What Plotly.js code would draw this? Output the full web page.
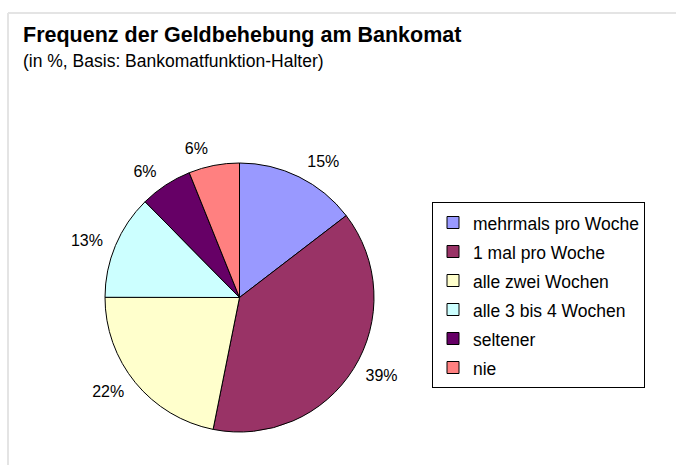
<!DOCTYPE html>
<html>
<head>
<meta charset="utf-8">
<script src="https://cdn.plot.ly/plotly-3.0.1.min.js"></script>
<style>html,body{margin:0;padding:0;background:#fff}#chart{width:676px;height:465px}</style>
</head>
<body>
<div id="chart"></div>
<script>
const categories = ["mehrmals pro Woche", "1 mal pro Woche", "alle zwei Wochen", "alle 3 bis 4 Wochen", "seltener", "nie"];
const shares = [14.6, 38.6, 21.9, 12.6, 6.3, 6.1];
const colors = ["#9999FF", "#993366", "#FFFFCC", "#CCFFFF", "#660066", "#FF8080"];
const titleText = "Frequenz der Geldbehebung am Bankomat";
const subtitleText = "(in %, Basis: Bankomatfunktion-Halter)";

const W = 676, H = 465;
const font = "Liberation Sans, Arial, sans-serif";
const cx = 239.5, cy = 297.5, r = 134.5, labelR = r + 9;

// visible pie (slices + legend)
const pie = {
  type: "pie",
  labels: categories.map(c => '<span style="font-size:17.5px">' + c + '</span>'),
  values: shares,
  sort: false,
  direction: "clockwise",
  rotation: 0,
  marker: {colors: colors, line: {color: "#000000", width: 1}},
  textinfo: "none",
  hoverinfo: "label+percent",
  domain: {x: [(cx - r) / W, (cx + r) / W], y: [1 - (cy + r) / H, 1 - (cy - r) / H]},
  showlegend: true
};

// same data, slightly larger invisible pie that carries the percentage labels a bit further out
const labelsPie = {
  type: "pie",
  labels: categories.map(c => '<span style="font-size:17.5px">' + c + '</span>'),
  values: shares,
  sort: false,
  direction: "clockwise",
  rotation: 0,
  marker: {colors: colors.map(() => "rgba(0,0,0,0)"), line: {width: 0}},
  textinfo: "percent",
  texttemplate: "%{percent:.0%}",
  textposition: "outside",
  outsidetextfont: {family: font, size: 16, color: "#000000"},
  hoverinfo: "skip",
  domain: {x: [(cx - labelR) / W, (cx + labelR) / W], y: [1 - (cy + labelR) / H, 1 - (cy - labelR) / H]},
  showlegend: false
};

const layout = {
  width: W, height: H,
  margin: {l: 0, r: 0, t: 0, b: 0},
  paper_bgcolor: "#ffffff",
  plot_bgcolor: "#ffffff",
  font: {family: font, color: "#000000"},
  title: {text: "<b>" + titleText + "</b>", x: 23 / W, xanchor: "left", xref: "paper",
          y: 1 - 27 / H, yanchor: "top", yref: "container",
          font: {family: font, size: 21.5, color: "#000000"}},
  annotations: [{
    text: subtitleText, xref: "paper", yref: "paper", x: 21 / W, y: 1 - 49 / H,
    xanchor: "left", yanchor: "top", showarrow: false,
    font: {family: font, size: 17.5, color: "#000000"}
  }],
  legend: {
    x: 432 / W, y: 1 - 202 / H, xanchor: "left", yanchor: "top",
    bordercolor: "#000000", borderwidth: 1, bgcolor: "#ffffff",
    font: {family: font, size: 20, color: "#000000"},
    itemclick: false, itemdoubleclick: false
  },
  shapes: [
    {type: "line", xref: "paper", yref: "paper", x0: 8 / W, x1: 1, y0: 1 - 13 / H, y1: 1 - 13 / H,
     line: {color: "#e4e4e4", width: 2}},
    {type: "line", xref: "paper", yref: "paper", x0: 8 / W, x1: 8 / W, y0: 0, y1: 1 - 13 / H,
     line: {color: "#e4e4e4", width: 2}}
  ]
};

Plotly.newPlot("chart", [labelsPie, pie], layout, {displayModeBar: false, staticPlot: true});
</script>
</body>
</html>
